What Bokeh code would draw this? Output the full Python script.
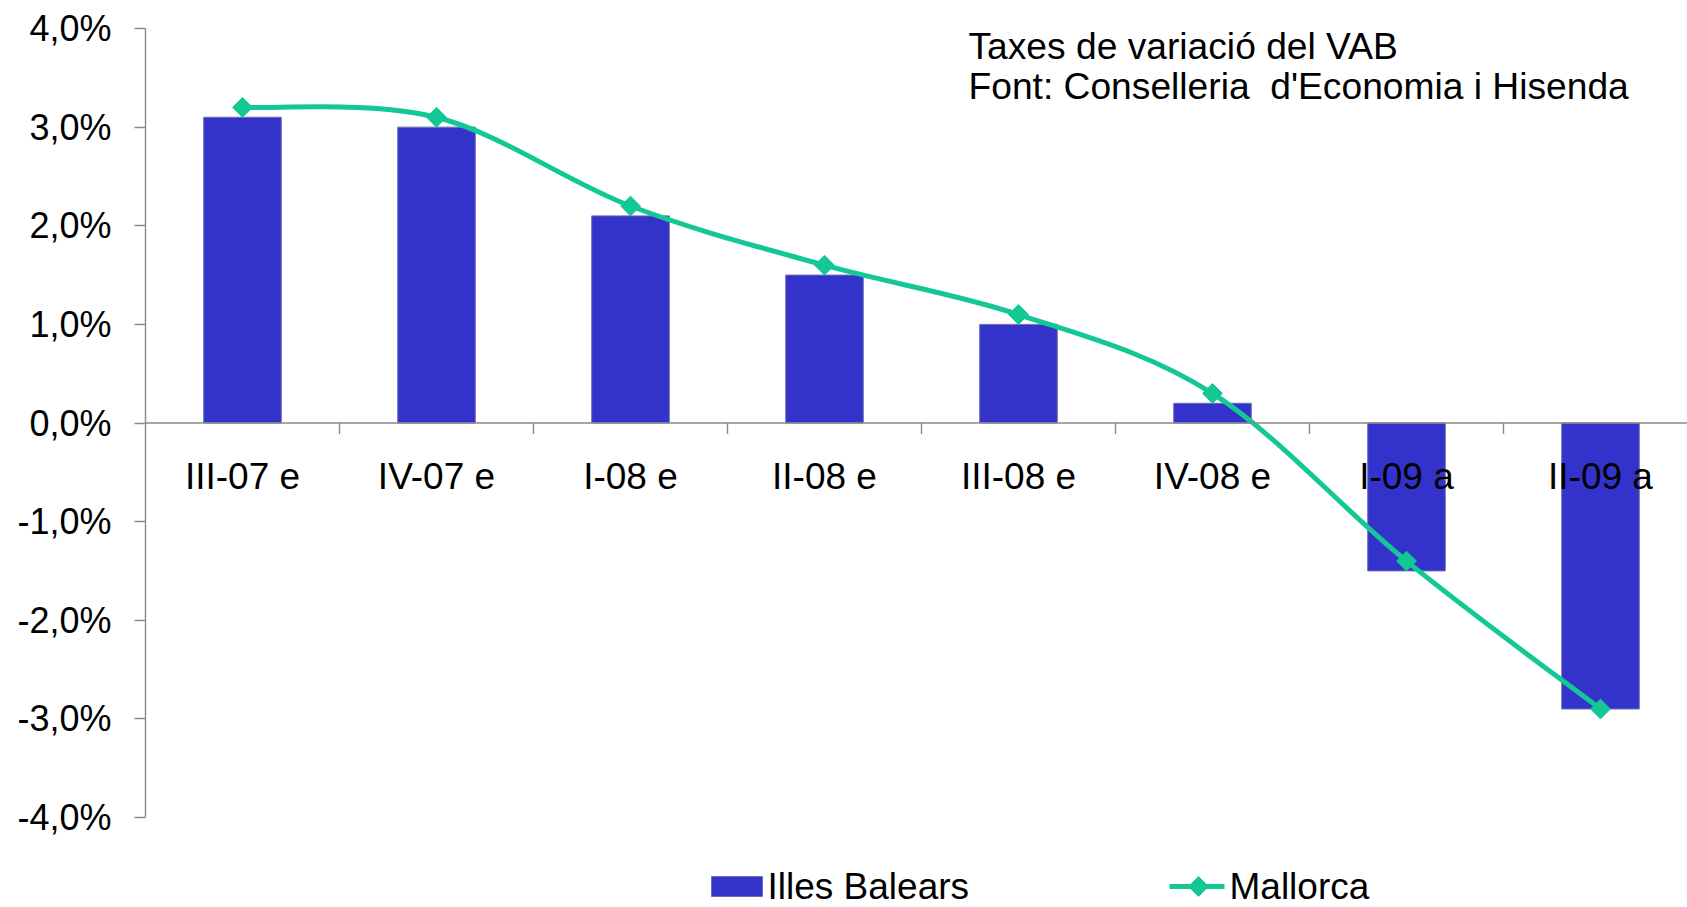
import numpy as np
from bokeh.plotting import figure
from bokeh.models import Range1d, FixedTicker, Span
from bokeh.core.properties import value
from bokeh.embed import file_html
from bokeh.resources import INLINE

# ---------------- data ----------------
categories = ["III-07 e", "IV-07 e", "I-08 e", "II-08 e", "III-08 e", "IV-08 e", "I-09 a", "II-09 a"]
illes_balears = [3.1, 3.0, 2.1, 1.5, 1.0, 0.2, -1.5, -2.9]
mallorca = [3.2, 3.1, 2.2, 1.6, 1.1, 0.3, -1.4, -2.9]
y_ticks = [-4, -3, -2, -1, 0, 1, 2, 3, 4]
y_tick_labels = ["-4,0%", "-3,0%", "-2,0%", "-1,0%", "0,0%", "1,0%", "2,0%", "3,0%", "4,0%"]
title_lines = ["Taxes de variació del VAB", "Font: Conselleria  d'Economia i Hisenda"]
legend_labels = ["Illes Balears", "Mallorca"]

# ---------------- layout ----------------
FONT = "Liberation Sans"
BLUE = "#3333CC"
GREEN = "#14C896"
AXIS = "#8A8A8A"

W, H = 1687, 907
BL = 145                   # left border = page x of frame
CAT_PX = 194.0             # pixels per category
UNIT_PX = 98.625           # pixels per 1 %
Y4_PAGE = 28               # page y of the 4,0% tick

y_end = 4 + Y4_PAGE / UNIT_PX
y_start = y_end - H / UNIT_PX


def px(xp):
    return (xp - BL) / CAT_PX


def py(yp):
    return 4 - (yp - Y4_PAGE) / UNIT_PX


p = figure(width=W, height=H,
           x_range=Range1d(0, (W - BL) / CAT_PX),
           y_range=Range1d(y_start, y_end),
           output_backend="svg", toolbar_location=None,
           x_axis_location=None,
           min_border_left=BL, min_border_right=0,
           min_border_top=0, min_border_bottom=0)
p.outline_line_color = None
p.xgrid.visible = False
p.ygrid.visible = False
p.background_fill_color = "white"
p.border_fill_color = "white"

# y axis
ax = p.yaxis[0]
ax.ticker = FixedTicker(ticks=y_ticks)
ax.major_label_overrides = {t: l for t, l in zip(y_ticks, y_tick_labels)}
ax.bounds = (-4, 4)
ax.axis_line_color = AXIS
ax.axis_line_width = 1.4
ax.major_tick_line_color = AXIS
ax.major_tick_line_width = 1.4
ax.major_tick_out = 11
ax.major_tick_in = 0
ax.minor_tick_line_color = None
ax.major_label_standoff = 23
ax.major_label_text_font = FONT
ax.major_label_text_font_size = "36px"
ax.major_label_text_color = "black"

n = len(categories)
centers = np.arange(n) + 0.5

# bars
p.vbar(x=centers, top=illes_balears, bottom=0, width=0.4,
       fill_color=BLUE, line_color="#6E6EB4", line_width=1)

# x axis at zero
p.add_layout(Span(location=0, dimension="width", line_color=AXIS, line_width=1.4))
bounds = np.arange(1, n)
p.segment(x0=bounds, y0=0, x1=bounds, y1=-11 / UNIT_PX, line_color=AXIS, line_width=1.4)

# category labels
p.text(x=centers, y=[py(476)] * n, text=categories,
       text_font=value(FONT), text_font_size="37px",
       text_align="center", text_baseline="middle", text_color="black")

# smoothed Mallorca line (bezier segments from the data points)
xs = list(centers)
ys = list(mallorca)
x0s, y0s, x1s, y1s, cx0s, cy0s, cx1s, cy1s = [], [], [], [], [], [], [], []
for i in range(n - 1):
    im = i - 1 if i > 0 else i
    ip = i + 2 if i + 2 < n else i + 1
    x0s.append(xs[i]); y0s.append(ys[i])
    x1s.append(xs[i + 1]); y1s.append(ys[i + 1])
    cx0s.append(xs[i] + (xs[i + 1] - xs[im]) / 6)
    cy0s.append(ys[i] + (ys[i + 1] - ys[im]) / 6)
    cx1s.append(xs[i + 1] - (xs[ip] - xs[i]) / 6)
    cy1s.append(ys[i + 1] - (ys[ip] - ys[i]) / 6)
p.bezier(x0=x0s, y0=y0s, x1=x1s, y1=y1s, cx0=cx0s, cy0=cy0s, cx1=cx1s, cy1=cy1s,
         line_color=GREEN, line_width=5)
p.scatter(x=centers, y=mallorca, marker="square", angle=np.pi / 4, size=14,
          fill_color=GREEN, line_color=GREEN)

# title box (double space kept visible with a non-breaking space)
shown_title = [t.replace("  ", "\u00a0 ") for t in title_lines]
p.quad(left=[px(947)], right=[px(1646)], top=[py(16)], bottom=[py(118)],
       fill_color="white", line_color=None)
p.text(x=[px(968), px(968)], y=[py(45), py(85)], text=shown_title,
       text_font=value(FONT), text_font_size="37.2px",
       text_align="left", text_baseline="middle", text_color="black")

# legend
LEG_Y = 886
p.quad(left=[px(711)], right=[px(762)], top=[py(LEG_Y - 10)], bottom=[py(LEG_Y + 10)],
       fill_color=BLUE, line_color="#6E6EB4", line_width=1)
p.segment(x0=[px(1169)], y0=[py(LEG_Y)], x1=[px(1224)], y1=[py(LEG_Y)],
          line_color=GREEN, line_width=5)
p.scatter(x=[px(1198)], y=[py(LEG_Y)], marker="square", angle=np.pi / 4, size=14,
          fill_color=GREEN, line_color=GREEN)
p.text(x=[px(767), px(1229)], y=[py(LEG_Y), py(LEG_Y)], text=legend_labels,
       text_font=value(FONT), text_font_size="37px",
       text_align="left", text_baseline="middle", text_color="black")

open("out.html", "w").write(file_html(p, INLINE))
